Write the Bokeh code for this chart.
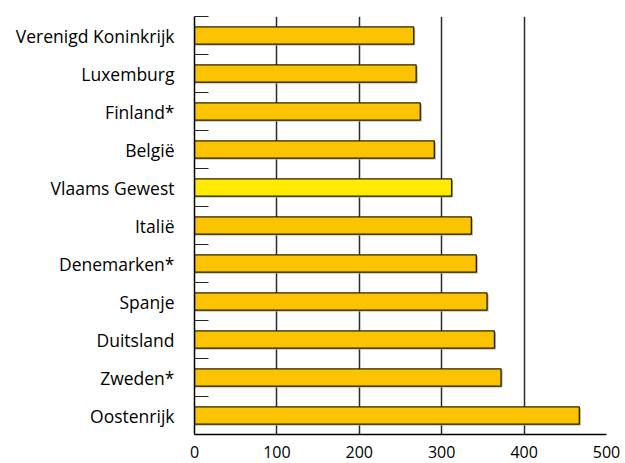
from bokeh.plotting import figure
from bokeh.models import FixedTicker, ColumnDataSource, Range1d
from bokeh.transform import dodge
from bokeh.embed import file_html
from bokeh.resources import INLINE

categories = ["Verenigd Koninkrijk", "Luxemburg", "Finland*", "België", "Vlaams Gewest",
              "Italië", "Denemarken*", "Spanje", "Duitsland", "Zweden*", "Oostenrijk"]
values = [266, 269, 274, 291, 312, 336, 342, 355, 364, 372, 467]
highlight = "Vlaams Gewest"
x_ticks = [0, 100, 200, 300, 400, 500]

n = len(categories)
ypos = [n - 1 - i + 0.5 for i in range(n)]
colors = ["#FFEB00" if c == highlight else "#FCC400" for c in categories]
src = ColumnDataSource(dict(y=ypos, v=values, c=colors, cat=categories))

p = figure(frame_width=412, frame_height=418, min_border_left=194, min_border_right=17,
           min_border_top=16, min_border_bottom=29,
           x_range=Range1d(0, 500), y_range=Range1d(0, n),
           output_backend="svg", toolbar_location=None)

p.outline_line_color = None
p.background_fill_color = "white"
p.border_fill_color = "white"

# shadow
p.hbar(y=dodge("y", -0.04), right=dodge("v", 1.8), left=0, height=0.45, source=src,
       fill_color="#a8a8a8", line_color=None)
p.hbar(y="y", right="v", left=0, height=0.45, source=src, fill_color="c",
       line_color="#2b2200", line_width=1.3)

p.xaxis.ticker = FixedTicker(ticks=x_ticks)
p.xaxis.major_tick_line_color = None
p.xaxis.minor_tick_line_color = None
p.xaxis.axis_line_color = "black"
p.xaxis.axis_line_width = 1.5
p.xaxis.major_label_text_font = "Open Sans"
p.xaxis.major_label_text_font_size = "16px"
p.xaxis.major_label_text_color = "black"
p.xaxis.major_label_standoff = 5

p.yaxis.ticker = FixedTicker(ticks=ypos, minor_ticks=[float(k) for k in range(1, n + 1)])
p.yaxis.major_label_overrides = {y: c for y, c in zip(ypos, categories)}
p.yaxis.major_tick_line_color = None
p.yaxis.minor_tick_in = 14
p.yaxis.minor_tick_out = 0
p.yaxis.minor_tick_line_color = "#222222"
p.yaxis.minor_tick_line_width = 1.2
p.yaxis.axis_line_color = "black"
p.yaxis.axis_line_width = 1.5
p.yaxis.major_label_text_font = "Open Sans"
p.yaxis.major_label_text_font_size = "17.5px"
p.yaxis.major_label_text_color = "black"
p.yaxis.major_label_standoff = 14

p.xgrid.ticker = FixedTicker(ticks=x_ticks[1:])
p.xgrid.grid_line_color = "#2a2a2a"
p.xgrid.grid_line_width = 1.5
p.ygrid.grid_line_color = None

open("out.html", "w").write(file_html(p, INLINE))
